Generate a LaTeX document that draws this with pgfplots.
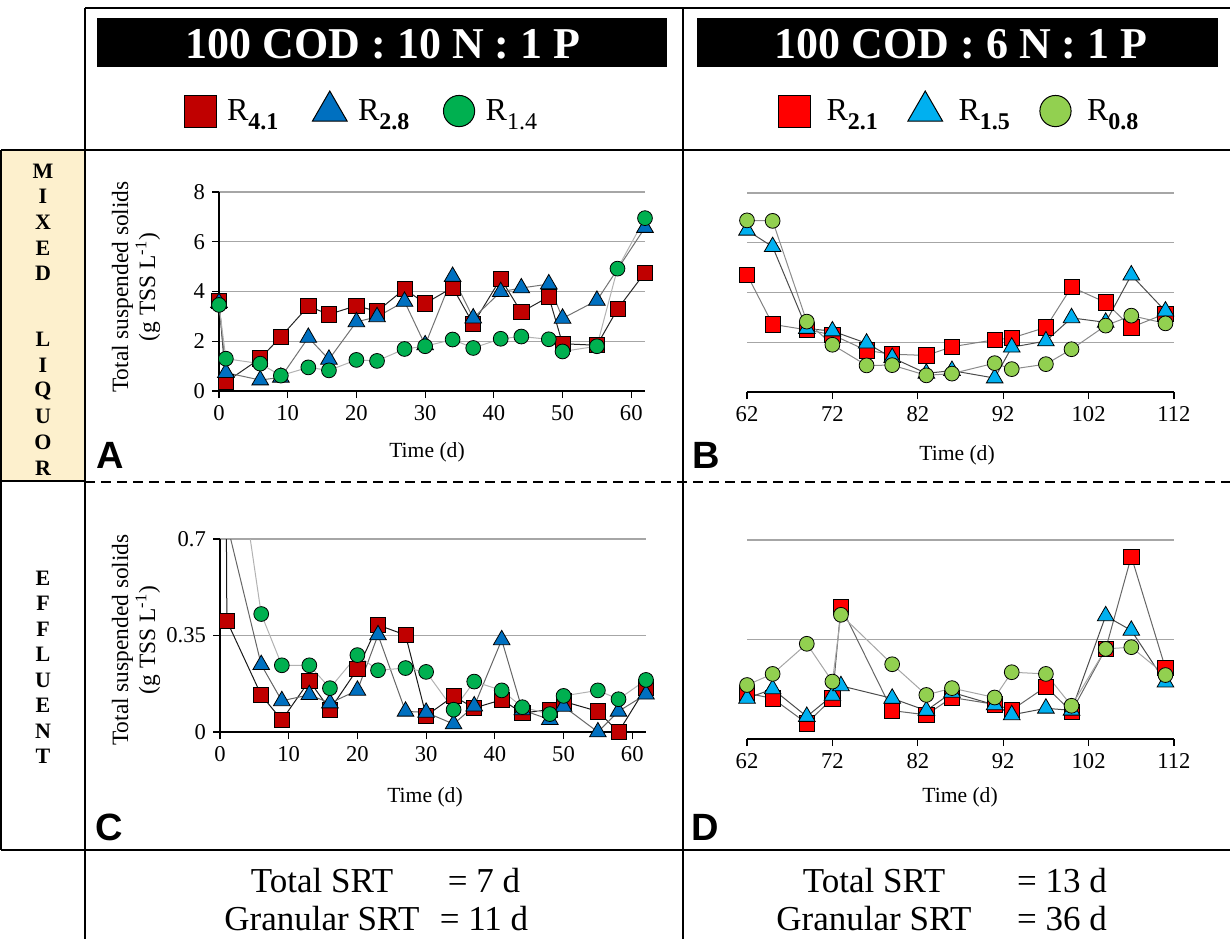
\documentclass[border=0pt]{standalone}
\usepackage{fontspec}
\setmainfont{Liberation Serif}
\newfontfamily\lsans{Liberation Sans}
\usepackage{pgfplots}
\usepackage{pgfplotstable}
\pgfplotsset{compat=1.18}

\definecolor{rA}{HTML}{C00000}
\definecolor{bA}{HTML}{0070C0}
\definecolor{gA}{HTML}{00B050}
\definecolor{rB}{HTML}{FF0000}
\definecolor{bB}{HTML}{00B0F0}
\definecolor{gB}{HTML}{92D050}
\definecolor{gridgray}{HTML}{A6A6A6}
\definecolor{boxyellow}{HTML}{FDF0CD}

\newcommand\Rs[1]{R\raisebox{-4.5pt}{\fontsize{12}{12}\selectfont #1}}

% effluent, 100:10:1 (first points run off the top of the axis)
\pgfplotstableread{
x y
0 5.0
1 0.403
6 0.134
9 0.043
13 0.186
16 0.081
20 0.228
23 0.388
27 0.352
30 0.059
34 0.13
37 0.087
41 0.117
44 0.069
48 0.081
50 0.111
55 0.075
58 0.0
62 0.162
}\Cred
\pgfplotstableread{
x y
1 0.757
6 0.244
9 0.113
13 0.135
16 0.105
20 0.151
23 0.352
27 0.075
30 0.071
34 0.029
37 0.094
41 0.334
44 0.08
48 0.045
50 0.093
55 0.0
58 0.075
62 0.137
}\Cblue
\pgfplotstableread{
x y
1 1.28
6 0.428
9 0.242
13 0.242
16 0.159
20 0.279
23 0.224
27 0.232
30 0.218
34 0.081
37 0.183
41 0.151
44 0.09
48 0.065
50 0.131
55 0.151
58 0.119
62 0.189
}\Cgreen

\pgfplotsset{
  panel/.style={
    scale only axis,
    axis x line*=bottom, axis y line*=left,
    axis line style={-, black, line width=0.6pt},
    tick align=outside, major tick length=3.5pt,
    tick style={black, line width=0.6pt},
    ymajorgrids, grid style={color=gridgray, line width=0.7pt},
    ticklabel style={font=\fontsize{11.3}{13}\selectfont},
    /pgf/number format/assume math mode=true,
  },
  noyaxis/.style={y axis line style={draw=none}, ytick style={draw=none}, yticklabels={}},
  sq/.style={mark=square*, mark size=3.8pt, mark options={solid, draw=black, line width=0.4pt, fill=#1}},
  tri/.style={mark=triangle*, mark size=4.8pt, mark options={solid, draw=black, line width=0.4pt, fill=#1}},
  circ/.style={mark=*, mark size=3.7pt, mark options={solid, draw=black, line width=0.4pt, fill=#1}},
  leg/.style={
    legend image code/.code={\draw[##1] plot coordinates {(0pt,0pt)};},
    legend style={draw=none, fill=none, anchor=center, legend columns=3,
      font=\fontsize{16}{18}\selectfont, inner sep=0pt},
    legend cell align=left,
  },
}

\begin{document}
\begin{tikzpicture}
\path[use as bounding box] (0,0) rectangle (615pt,-469.5pt);

\begin{scope}[x=0.5pt,y=-0.5pt]
  % row header boxes
  \fill[boxyellow] (1,150) rectangle (85,481);
  \draw[line width=1pt] (1,150) -- (1,850);
  \draw[line width=1pt] (1,481) -- (85,481);
  \draw[line width=1pt] (85,8) -- (1230,8);
  \draw[line width=1pt] (85,8) -- (85,939);
  \draw[line width=1pt] (683,8) -- (683,939);
  \draw[line width=1.3pt] (1,150) -- (1230,150);
  \draw[line width=1pt, dash pattern=on 5pt off 3pt] (85,482) -- (1230,482);
  \draw[line width=1pt] (1,850) -- (1230,850);
  % titles
  \fill[black] (97,18) rectangle (667,67);
  \fill[black] (697,18) rectangle (1218,67);
  \node[white, font=\bfseries\fontsize{22}{24}\selectfont, anchor=base] at (383,58) {100 COD : 10 N : 1 P};
  \node[white, font=\bfseries\fontsize{22}{24}\selectfont, anchor=base] at (961,58) {100 COD : 6 N : 1 P};
  % row labels
  \foreach \ch/\yy in {M/171, I/196.7, X/222.4, E/248.1, D/273.8, L/339.4, I/365.1, Q/390.8, U/416.5, O/442.2, R/467.9}
    \node[font=\bfseries\fontsize{11}{11}\selectfont] at (43,\yy) {\ch};
  \foreach \ch/\yy in {E/578, F/603.5, F/629, L/654.5, U/680, E/705.5, N/731, T/756.5}
    \node[font=\bfseries\fontsize{11}{11}\selectfont] at (43,\yy) {\ch};
  % y labels
  \node[rotate=90, align=center, font=\fontsize{11.7}{13.5}\selectfont] at (136,287)
    {Total suspended solids\\(g TSS L\textsuperscript{-1})};
  \node[rotate=90, align=center, font=\fontsize{11.7}{13.5}\selectfont] at (136,640)
    {Total suspended solids\\(g TSS L\textsuperscript{-1})};
  % x labels
  \node[font=\fontsize{10.8}{12}\selectfont] at (427,452) {Time (d)};
  \node[font=\fontsize{10.8}{12}\selectfont] at (957,455) {Time (d)};
  \node[font=\fontsize{10.8}{12}\selectfont] at (425,797) {Time (d)};
  \node[font=\fontsize{10.8}{12}\selectfont] at (960,797) {Time (d)};
  % panel letters
  \node[font=\lsans\bfseries\fontsize{19}{20}\selectfont] at (110,455) {A};
  \node[font=\lsans\bfseries\fontsize{19}{20}\selectfont] at (706,455) {B};
  \node[font=\lsans\bfseries\fontsize{19}{20}\selectfont] at (109,827) {C};
  \node[font=\lsans\bfseries\fontsize{19}{20}\selectfont] at (705,827) {D};
  % SRT rows
  \begin{scope}[font=\fontsize{17.5}{19}\selectfont]
    \node[anchor=base] at (322,892) {Total SRT};
    \node[anchor=base] at (484,892) {= 7 d};
    \node[anchor=base] at (322,930) {Granular SRT};
    \node[anchor=base] at (484,930) {= 11 d};
    \node[anchor=base] at (874,892) {Total SRT};
    \node[anchor=base] at (1062,892) {= 13 d};
    \node[anchor=base] at (874,930) {Granular SRT};
    \node[anchor=base] at (1062,930) {= 36 d};
  \end{scope}
\end{scope}

% ---------- A: mixed liquor, 100:10:1
\begin{axis}[panel, leg, at={(109.5pt,-195.5pt)}, anchor=south west,
  width=213pt, height=99.5pt, xmin=0, xmax=62, ymin=0, ymax=8,
  xtick={0,10,...,60}, ytick={0,2,4,6,8},
  legend style={at={(0.337,1.417)},
    /tikz/every odd column/.append style={column sep=3.5pt},
    /tikz/every even column/.append style={column sep=15pt}}]
\addlegendimage{only marks, mark=square*, mark size=8pt, mark options={draw=black, line width=0.5pt, fill=rA}}
\addlegendentry{\Rs{\bfseries 4.1}}
\addlegendimage{only marks, mark=triangle*, mark size=10pt, mark options={draw=black, line width=0.5pt, fill=bA}}
\addlegendentry{\Rs{\bfseries 2.8}}
\addlegendimage{only marks, mark=*, mark size=7.8pt, mark options={draw=black, line width=0.5pt, fill=gA}}
\addlegendentry{\Rs{1.4}}
\addplot[forget plot, black!85, line width=0.5pt, sq=rA] coordinates {
(0,3.62) (1,0.36) (6,1.31) (9,2.18) (13,3.41) (16,3.08) (20,3.43) (23,3.2) (27,4.1) (30,3.52)
(34,4.16) (37,2.7) (41,4.52) (44,3.17) (48,3.79) (50,1.9) (55,1.84) (58,3.29) (62,4.76)};
\addplot[forget plot, black!55, line width=0.5pt, tri=bA] coordinates {
(0,3.55) (1,0.74) (6,0.44) (9,0.55) (13,2.15) (16,1.27) (20,2.78) (23,2.98) (27,3.6) (30,1.85)
(34,4.6) (37,2.93) (41,3.99) (44,4.14) (48,4.3) (50,2.92) (55,3.64) (62,6.57)};
\addplot[forget plot, black!30, line width=0.5pt, circ=gA] coordinates {
(0,3.46) (1,1.3) (6,1.1) (9,0.62) (13,0.95) (16,0.83) (20,1.25) (23,1.21) (27,1.69) (30,1.8)
(34,2.07) (37,1.73) (41,2.1) (44,2.19) (48,2.08) (50,1.59) (55,1.8) (58,4.92) (62,6.95)};
\end{axis}

% ---------- B: mixed liquor, 100:6:1
\begin{axis}[panel, noyaxis, leg, at={(373.5pt,-196pt)}, anchor=south west,
  width=213.5pt, height=99.5pt, xmin=62, xmax=112, ymin=0, ymax=8,
  xtick={62,72,...,112}, ytick={0,2,4,6,8},
  legend style={at={(0.500,1.422)},
    /tikz/every odd column/.append style={column sep=6pt},
    /tikz/every even column/.append style={column sep=13pt}}]
\addlegendimage{only marks, mark=square*, mark size=8pt, mark options={draw=black, line width=0.5pt, fill=rB}}
\addlegendentry{\Rs{\bfseries 2.1}}
\addlegendimage{only marks, mark=triangle*, mark size=10pt, mark options={draw=black, line width=0.5pt, fill=bB}}
\addlegendentry{\Rs{\bfseries 1.5}}
\addlegendimage{only marks, mark=*, mark size=7.8pt, mark options={draw=black, line width=0.5pt, fill=gB}}
\addlegendentry{\Rs{\bfseries 0.8}}
\addplot[forget plot, black!50, line width=0.5pt, sq=rB] coordinates {
(62,4.72) (65,2.72) (69,2.5) (72,2.3) (76,1.67) (79,1.52) (83,1.47) (86,1.82) (91,2.1) (93,2.17)
(97,2.6) (100,4.22) (104,3.6) (107,2.6) (111,3.15)};
\addplot[forget plot, black!70, line width=0.5pt, tri=bB] coordinates {
(62,6.5) (65,5.84) (69,2.55) (72,2.45) (76,1.96) (79,1.38) (83,0.75) (86,0.86) (91,0.56) (93,1.8)
(97,2.05) (100,2.98) (104,2.8) (107,4.7) (111,3.25)};
\addplot[forget plot, black!45, line width=0.5pt, circ=gB] coordinates {
(62,6.9) (65,6.88) (69,2.83) (72,1.9) (76,1.07) (79,1.08) (83,0.67) (86,0.74) (91,1.16) (93,0.92)
(97,1.12) (100,1.72) (104,2.67) (107,3.07) (111,2.76)};
\end{axis}

% ---------- C: effluent, 100:10:1
\begin{axis}[panel, at={(110pt,-366pt)}, anchor=south west,
  width=213pt, height=96.5pt, xmin=0, xmax=62, ymin=0, ymax=0.7,
  xtick={0,10,...,60}, ytick={0,0.35,0.7}, yticklabels={0,0.35,0.7}]
\addplot[black!90, line width=0.5pt] table {\Cred};
\addplot[black!60, line width=0.5pt] table {\Cblue};
\addplot[black!30, line width=0.5pt] table {\Cgreen};
\addplot[only marks, sq=rA, restrict y to domain=-0.05:0.71] table {\Cred};
\addplot[only marks, tri=bA, restrict y to domain=-0.05:0.71] table {\Cblue};
\addplot[only marks, circ=gA, restrict y to domain=-0.05:0.71] table {\Cgreen};
\end{axis}

% ---------- D: effluent, 100:6:1
\begin{axis}[panel, noyaxis, at={(373.5pt,-369.5pt)}, anchor=south west,
  width=213.5pt, height=99.5pt, xmin=62, xmax=112, ymin=0, ymax=0.7,
  xtick={62,72,...,112}, ytick={0,0.35,0.7}]
\addplot[black!60, line width=0.5pt, sq=rB] coordinates {
(62,0.161) (65,0.143) (69,0.055) (72,0.143) (73,0.466) (79,0.1) (83,0.085) (86,0.146) (91,0.122)
(93,0.102) (97,0.184) (100,0.096) (104,0.317) (107,0.642) (111,0.249)};
\addplot[black!70, line width=0.5pt, tri=bB] coordinates {
(62,0.143) (65,0.176) (69,0.079) (72,0.153) (73,0.187) (79,0.143) (83,0.1) (86,0.164) (91,0.12)
(93,0.085) (97,0.108) (100,0.101) (104,0.433) (107,0.382) (111,0.2)};
\addplot[black!35, line width=0.5pt, circ=gB] coordinates {
(62,0.19) (65,0.229) (69,0.335) (72,0.202) (73,0.437) (79,0.263) (83,0.155) (86,0.179) (91,0.146)
(93,0.235) (97,0.229) (100,0.117) (104,0.317) (107,0.323) (111,0.225)};
\end{axis}
\end{tikzpicture}
\end{document}
